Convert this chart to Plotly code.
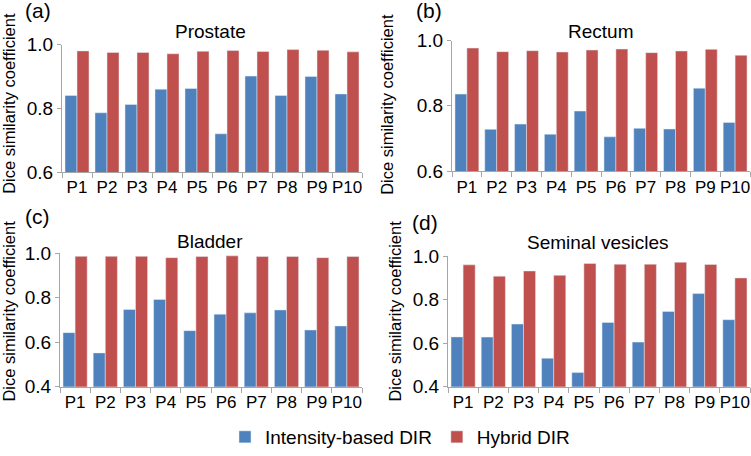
import plotly.graph_objects as go

W, H = 751, 456

patients = ["P1", "P2", "P3", "P4", "P5", "P6", "P7", "P8", "P9", "P10"]

prostate_int = [0.840, 0.786, 0.812, 0.860, 0.862, 0.720, 0.901, 0.840, 0.900, 0.845]
prostate_hyb = [0.980, 0.975, 0.975, 0.971, 0.979, 0.981, 0.978, 0.984, 0.982, 0.977]

rectum_int = [0.836, 0.728, 0.744, 0.713, 0.784, 0.705, 0.731, 0.729, 0.854, 0.749]
rectum_hyb = [0.977, 0.966, 0.969, 0.965, 0.971, 0.974, 0.963, 0.968, 0.973, 0.955]

bladder_int = [0.643, 0.552, 0.747, 0.792, 0.652, 0.726, 0.732, 0.745, 0.655, 0.673]
bladder_hyb = [0.986, 0.986, 0.986, 0.980, 0.985, 0.988, 0.985, 0.985, 0.980, 0.985]

seminal_int = [0.629, 0.628, 0.688, 0.531, 0.465, 0.695, 0.605, 0.746, 0.828, 0.708]
seminal_hyb = [0.960, 0.908, 0.932, 0.912, 0.966, 0.963, 0.963, 0.972, 0.962, 0.900]

BLUE = "#4F81BD"
RED = "#C0504D"
FONT = "Liberation Sans, Arial, sans-serif"


def px(x):
    return x / W


def py(y):
    return 1 - y / H


# panel boxes in pixels: x0, x1, ytop, ybottom, y-range, data, title, title pos, label, label pos, y-title pos
panels = [
    (62, 362, 45, 174, [0.6, 1.0], prostate_int, prostate_hyb,
     "Prostate", (210, 32), "(a)", (38, 11), (9, 105)),
    (452, 750, 41, 173, [0.6, 1.0], rectum_int, rectum_hyb,
     "Rectum", (600, 32), "(b)", (429, 11), (387, 105)),
    (60, 362, 256, 391, [0.4, 1.0], bladder_int, bladder_hyb,
     "Bladder", (210, 244), "(c)", (37, 219), (9, 315)),
    (448, 750, 259, 391, [0.4, 1.0], seminal_int, seminal_hyb,
     "Seminal vesicles", (598, 245), "(d)", (425, 225), (395, 315)),
]

fig = go.Figure()
annotations = []

for i, (x0, x1, yt, yb, yr, vi, vh, title, tpos, lab, lpos, ypos) in enumerate(panels):
    n = "" if i == 0 else str(i + 1)
    fig.add_trace(go.Bar(x=patients, y=vi, name="Intensity-based DIR", marker_color=BLUE,
                         xaxis="x" + n, yaxis="y" + n, showlegend=(i == 0)))
    fig.add_trace(go.Bar(x=patients, y=vh, name="Hybrid DIR", marker_color=RED,
                         xaxis="x" + n, yaxis="y" + n, showlegend=(i == 0)))
    fig.update_layout(**{
        "xaxis" + n: dict(domain=[px(x0), px(x1)], anchor="y" + n, showline=True, automargin=False,
                          linecolor="#A6A6A6", linewidth=1, ticks="outside", tickson="boundaries",
                          ticklen=5, tickcolor="#A6A6A6", showgrid=False, tickangle=0,
                          tickfont=dict(size=17, color="black", family=FONT)),
        "yaxis" + n: dict(domain=[py(yb), py(yt)], anchor="x" + n, range=yr, automargin=False,
                          dtick=0.2, tickformat=".1f", showline=True, linecolor="#A6A6A6",
                          linewidth=1, ticks="outside", ticklen=4, tickcolor="#A6A6A6",
                          showgrid=False, zeroline=False,
                          tickfont=dict(size=19, color="black", family=FONT)),
    })
    annotations.append(dict(text=title, x=px(tpos[0]), y=py(tpos[1]), xref="paper", yref="paper",
                            xanchor="center", yanchor="middle", showarrow=False,
                            font=dict(size=19, family=FONT, color="black")))
    annotations.append(dict(text=lab, x=px(lpos[0]), y=py(lpos[1]), xref="paper", yref="paper",
                            xanchor="center", yanchor="middle", showarrow=False,
                            font=dict(size=21, family=FONT, color="black")))
    annotations.append(dict(text="Dice similarity coefficient", x=px(ypos[0]), y=py(ypos[1]),
                            xref="paper", yref="paper", xanchor="center", yanchor="middle",
                            textangle=-90, showarrow=False,
                            font=dict(size=16.5, family=FONT, color="black")))

fig.update_layout(
    width=W, height=H,
    margin=dict(l=0, r=0, t=0, b=0),
    barmode="group", bargap=0.2, bargroupgap=0,
    plot_bgcolor="white", paper_bgcolor="white",
    font=dict(family=FONT, color="black"),
    annotations=annotations,
    legend=dict(orientation="h", x=px(225), xanchor="left", y=py(442), yanchor="middle",
                font=dict(size=19, family=FONT, color="black"), itemwidth=30),
)

# drop the browser's default 8px body margin so the figure sits at the page corner
fig.write_html("out.html", config={"displayModeBar": False},
               post_script="document.body.style.margin = '0';")
